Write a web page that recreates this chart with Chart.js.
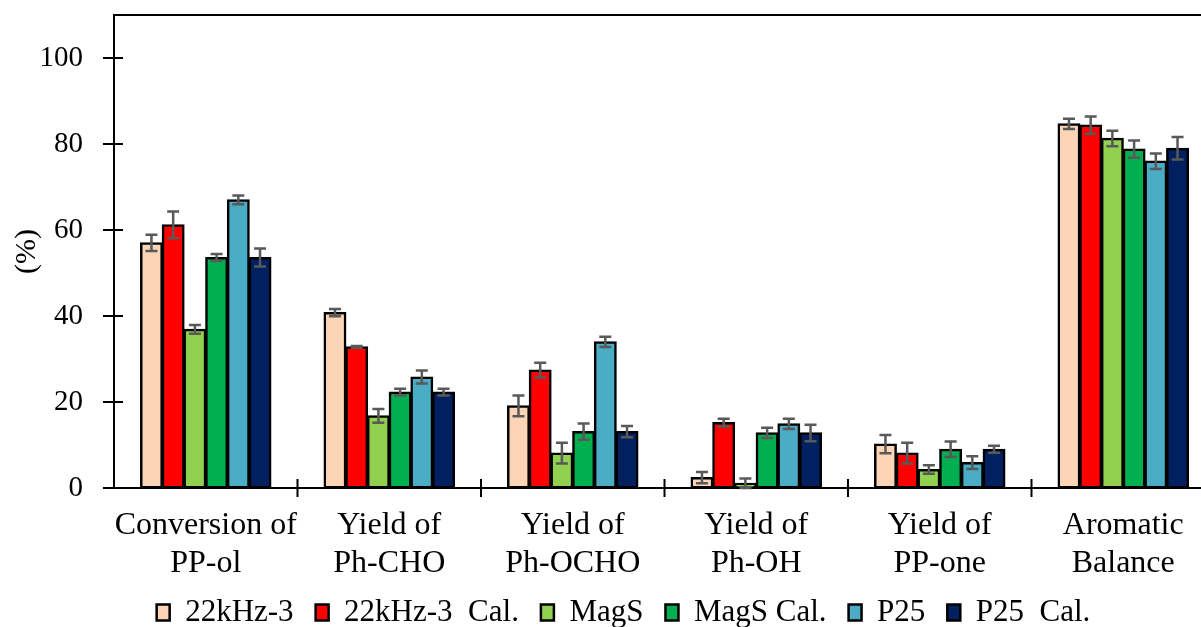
<!DOCTYPE html>
<html>
<head>
<meta charset="utf-8">
<script src="https://cdn.jsdelivr.net/npm/chart.js@4.4.0/dist/chart.umd.min.js"></script>
<style>
  html, body { margin: 0; padding: 0; background: #fff; overflow: hidden; }
  #wrap { width: 1201px; height: 627px; overflow: hidden; position: relative; }
  #chart { position: absolute; left: 0; top: 0; }
</style>
</head>
<body>
<div id="wrap"><canvas id="chart" width="1230" height="638"></canvas></div>
<script>
// Categories (two-line labels)
const categories = [
  ['Conversion of', 'PP-ol'],
  ['Yield of', 'Ph-CHO'],
  ['Yield of', 'Ph-OCHO'],
  ['Yield of', 'Ph-OH'],
  ['Yield of', 'PP-one'],
  ['Aromatic', 'Balance']
];

const seriesNames = ['22kHz-3', '22kHz-3  Cal.', 'MagS', 'MagS Cal.', 'P25', 'P25  Cal.'];
const seriesColors = ['#FBD5B5', '#FF0000', '#92D050', '#00B050', '#4BACC6', '#002060'];

// Values (%)
const khz3 = [57.0, 40.8, 19.1, 2.4, 10.2, 84.7];
const khz3Cal = [61.2, 32.8, 27.4, 15.2, 8.1, 84.4];
const magS = [36.9, 16.8, 8.1, 1.1, 4.3, 81.3];
const magSCal = [53.6, 22.3, 13.1, 12.8, 9.0, 78.8];
const p25 = [67.0, 25.8, 34.0, 14.9, 5.9, 76.0];
const p25Cal = [53.6, 22.3, 13.1, 12.8, 9.0, 79.0];

// Error bars (+/-)
const khz3Err = [1.9, 0.85, 2.4, 1.3, 2.1, 1.2];
const khz3CalErr = [3.1, 0.2, 1.7, 0.9, 2.4, 2.0];
const magSErr = [1.0, 1.6, 2.4, 1.1, 1.0, 1.8];
const magSCalErr = [0.8, 0.8, 1.9, 1.2, 1.8, 2.0];
const p25Err = [1.0, 1.5, 1.2, 1.2, 1.5, 1.8];
const p25CalErr = [2.1, 0.8, 1.3, 1.9, 0.8, 2.6];

const allValues = [khz3, khz3Cal, magS, magSCal, p25, p25Cal];
const allErrors = [khz3Err, khz3CalErr, magSErr, magSCalErr, p25Err, p25CalErr];

const FONT = "'Liberation Serif', 'Times New Roman', serif";

// error bars drawn on top of each bar
const errorBars = {
  id: 'errorBars',
  afterDatasetsDraw(chart) {
    const ctx = chart.ctx;
    const y = chart.scales.y;
    chart.data.datasets.forEach((ds, i) => {
      const meta = chart.getDatasetMeta(i);
      meta.data.forEach((bar, j) => {
        const v = ds.data[j];
        const e = ds.errors[j];
        const top = y.getPixelForValue(v + e);
        const bot = y.getPixelForValue(v - e);
        ctx.save();
        ctx.strokeStyle = '#595959';
        ctx.lineWidth = 2.5;
        ctx.beginPath();
        ctx.moveTo(bar.x, top);
        ctx.lineTo(bar.x, bot);
        ctx.moveTo(bar.x - 6, top);
        ctx.lineTo(bar.x + 6, top);
        ctx.moveTo(bar.x - 6, bot);
        ctx.lineTo(bar.x + 6, bot);
        ctx.stroke();
        ctx.restore();
      });
    });
  }
};

// crossing tick marks + top frame line
const axisMarks = {
  id: 'axisMarks',
  afterLayout(chart) {
    // nudge legend a bit to the right, like the original
    chart.legend.left += 16;
    chart.legend.right += 16;
  },
  afterDraw(chart) {
    const ctx = chart.ctx;
    const area = chart.chartArea;
    const x = chart.scales.x;
    const y = chart.scales.y;
    ctx.save();
    ctx.strokeStyle = '#000';
    ctx.lineWidth = 2;
    ctx.beginPath();
    ctx.moveTo(area.left - 1, area.top);
    ctx.lineTo(area.right, area.top);
    y.ticks.forEach(t => {
      const py = y.getPixelForValue(t.value);
      ctx.moveTo(area.left - 11, py);
      ctx.lineTo(area.left + 9, py);
    });
    for (let i = 1; i < categories.length; i++) {
      const px = (x.getPixelForValue(i - 1) + x.getPixelForValue(i)) / 2;
      ctx.moveTo(px, area.bottom - 9);
      ctx.lineTo(px, area.bottom + 9);
    }
    ctx.stroke();
    ctx.restore();
  }
};

new Chart(document.getElementById('chart'), {
  type: 'bar',
  data: {
    labels: categories,
    datasets: seriesNames.map((name, i) => ({
      label: name,
      data: allValues[i],
      errors: allErrors[i],
      backgroundColor: seriesColors[i],
      borderColor: '#000',
      borderWidth: 2.5,
      borderSkipped: false,
      inflateAmount: 0.6,
      categoryPercentage: 0.71,
      barPercentage: 1.0
    }))
  },
  options: {
    responsive: false,
    animation: false,
    layout: { padding: { top: 15, left: 0, right: 15, bottom: 0 } },
    plugins: {
      legend: {
        position: 'bottom',
        labels: {
          font: { family: FONT, size: 31 },
          color: '#000',
          boxWidth: 13,
          boxHeight: 16,
          padding: 22
        }
      },
      tooltip: { enabled: false }
    },
    scales: {
      x: {
        grid: { display: false, drawTicks: false },
        border: { display: true, color: '#000', width: 2 },
        ticks: {
          font: { family: FONT, size: 32 },
          color: '#000',
          padding: 18,
          maxRotation: 0,
          autoSkip: false
        },
        afterFit(scale) { scale.height = 87; }
      },
      y: {
        min: 0,
        max: 110,
        grid: { display: false, drawTicks: false },
        border: { display: true, color: '#000', width: 2 },
        ticks: {
          stepSize: 20,
          includeBounds: false,
          font: { family: FONT, size: 29 },
          color: '#000',
          padding: 31
        },
        title: {
          display: true,
          text: '(%)',
          font: { family: FONT, size: 30 },
          color: '#000',
          padding: { top: 9, bottom: 0 }
        },
        afterFit(scale) {
          scale.width = 114;
          scale.paddingTop = 0;
          scale.paddingBottom = 0;
        }
      }
    }
  },
  plugins: [errorBars, axisMarks]
});
</script>
</body>
</html>
